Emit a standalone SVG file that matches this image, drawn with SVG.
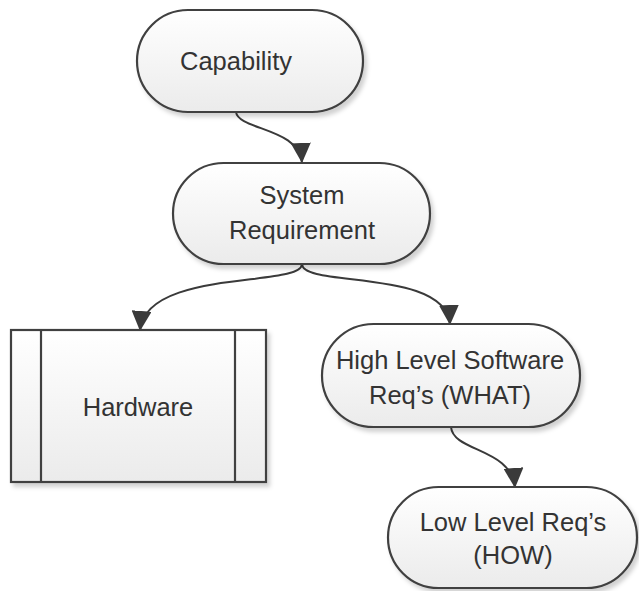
<svg xmlns="http://www.w3.org/2000/svg" width="639" height="591" viewBox="0 0 639 591">
<defs>
<linearGradient id="g" x1="0" y1="0" x2="0" y2="1">
<stop offset="0" stop-color="#ffffff"/>
<stop offset="1" stop-color="#ebebeb"/>
</linearGradient>
<filter id="sh" x="-10%" y="-10%" width="130%" height="130%">
<feDropShadow dx="3" dy="4" stdDeviation="2" flood-color="#000" flood-opacity="0.18"/>
</filter>
<marker id="ah" markerUnits="userSpaceOnUse" markerWidth="20" markerHeight="20" refX="20" refY="10" orient="auto">
<path d="M0,0 L20,10 L0,20 z" fill="#3a3a3a"/>
</marker>
<style>
.n{fill:url(#g);stroke:#404040;stroke-width:2.2;filter:url(#sh)}
.l{fill:none;stroke:#404040;stroke-width:2.2}
.t{font-family:"Liberation Sans",Arial,sans-serif;font-size:25.5px;fill:#333;text-anchor:middle}
.c{fill:none;stroke:#3a3a3a;stroke-width:2;marker-end:url(#ah)}
</style>
</defs>
<g id="connectors">
<path class="c" d="M236,112 C238,130 300,128 302,163"/>
<path class="c" d="M302,264 C302,288 145,268 140,331"/>
<path class="c" d="M302,264 C302,288 447,268 450,325"/>
<path class="c" d="M451,427 C453,452 512,448 515,488"/>
</g>
<g id="capability">
<rect class="n" x="137" y="10" width="226" height="102" rx="51"/>
<text class="t" x="236" y="70">Capability</text>
</g>
<g id="system-requirement">
<rect class="n" x="173" y="163" width="257" height="101" rx="50.5"/>
<text class="t" x="302" y="204">System</text>
<text class="t" x="302" y="239">Requirement</text>
</g>
<g id="hardware">
<rect class="n" x="11" y="330" width="255" height="152"/>
<line class="l" x1="41" y1="330" x2="41" y2="482"/>
<line class="l" x1="235" y1="330" x2="235" y2="482"/>
<text class="t" x="138" y="416">Hardware</text>
</g>
<g id="high-level">
<rect class="n" x="322" y="324" width="258" height="103" rx="51.5"/>
<text class="t" x="450" y="369">High Level Software</text>
<text class="t" x="450" y="404">Req’s (WHAT)</text>
</g>
<g id="low-level">
<rect class="n" x="388" y="487" width="249" height="101" rx="50.5"/>
<text class="t" x="513" y="531">Low Level Req’s</text>
<text class="t" x="513" y="564">(HOW)</text>
</g>
</svg>
